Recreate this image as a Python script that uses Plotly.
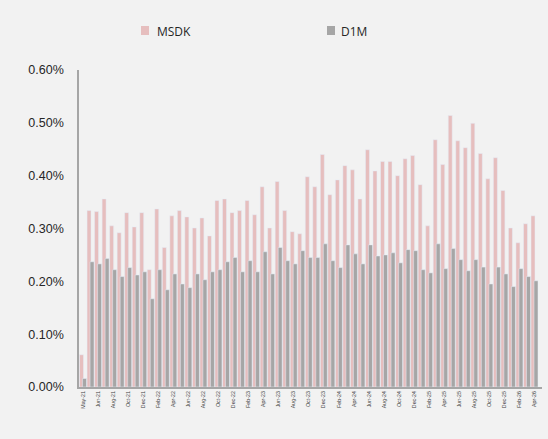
import plotly.graph_objects as go

months = ["May-21", "May-21", "Jun-21", "Jul-21", "Aug-21", "Sep-21", "Oct-21", "Nov-21", "Dec-21",
          "Jan-22", "Feb-22", "Mar-22", "Apr-22", "May-22", "Jun-22", "Jul-22", "Aug-22", "Sep-22",
          "Oct-22", "Nov-22", "Dec-22", "Jan-23", "Feb-23", "Mar-23", "Apr-23", "May-23", "Jun-23",
          "Jul-23", "Aug-23", "Sep-23", "Oct-23", "Nov-23", "Dec-23", "Jan-24", "Feb-24", "Mar-24",
          "Apr-24", "May-24", "Jun-24", "Jul-24", "Aug-24", "Sep-24", "Oct-24", "Nov-24", "Dec-24",
          "Jan-25", "Feb-25", "Mar-25", "Apr-25", "May-25", "Jun-25", "Jul-25", "Aug-25", "Sep-25",
          "Oct-25", "Nov-25", "Dec-25", "Jan-26", "Feb-26", "Mar-26", "Apr-26"]

msdk = [0.061, 0.334, 0.332, 0.356, 0.305, 0.292, 0.330, 0.303, 0.330, 0.222,
        0.337, 0.264, 0.324, 0.334, 0.322, 0.301, 0.320, 0.286, 0.353, 0.356,
        0.330, 0.334, 0.353, 0.326, 0.379, 0.301, 0.389, 0.334, 0.294, 0.290,
        0.398, 0.379, 0.440, 0.364, 0.392, 0.419, 0.411, 0.356, 0.449, 0.409,
        0.427, 0.427, 0.400, 0.432, 0.438, 0.383, 0.305, 0.468, 0.421, 0.514,
        0.466, 0.453, 0.499, 0.442, 0.394, 0.434, 0.372, 0.301, 0.273, 0.309,
        0.324]

d1m = [0.016, 0.237, 0.233, 0.243, 0.222, 0.209, 0.226, 0.212, 0.218, 0.167,
       0.222, 0.184, 0.214, 0.195, 0.188, 0.214, 0.203, 0.218, 0.222, 0.237,
       0.245, 0.218, 0.239, 0.218, 0.256, 0.214, 0.264, 0.239, 0.233, 0.258,
       0.245, 0.245, 0.271, 0.239, 0.226, 0.269, 0.252, 0.233, 0.269, 0.248,
       0.250, 0.254, 0.235, 0.260, 0.258, 0.222, 0.216, 0.271, 0.224, 0.262,
       0.241, 0.220, 0.241, 0.227, 0.195, 0.227, 0.214, 0.190, 0.224, 0.209,
       0.201]

y_ticks = [0.0, 0.1, 0.2, 0.3, 0.4, 0.5, 0.6]

PINK = "#E6BEBE"
GRAY = "#A6A6A6"
BG = "#F2F2F2"

idx = list(range(len(months)))

fig = go.Figure()
fig.add_trace(go.Bar(x=idx, y=msdk, name="MSDK", marker_color=PINK,
                     width=0.53, offset=-0.46, showlegend=False))
fig.add_trace(go.Bar(x=idx, y=d1m, name="D1M", marker_color=GRAY,
                     width=0.53, offset=-0.06, showlegend=False))

# manual legend
W, H, L, B = 463, 317, 79, 52
def px(xp):
    return (xp - L) / W
def py(yp):
    return (439 - yp - B) / H

for x0, x1, col, label, tx in [(141, 149, PINK, "MSDK", 155), (327, 335, GRAY, "D1M", 339)]:
    fig.add_shape(type="rect", xref="paper", yref="paper",
                  x0=px(x0), x1=px(x1), y0=py(35), y1=py(26),
                  fillcolor=col, line_width=0)
    fig.add_annotation(text=label, xref="paper", yref="paper", x=px(tx), y=py(31),
                       xanchor="left", yanchor="middle", showarrow=False,
                       font=dict(family="Open Sans", size=12, color="#262626"))

fig.update_layout(
    width=548, height=439,
    margin=dict(l=L, r=548 - L - W, t=70, b=B),
    paper_bgcolor=BG, plot_bgcolor=BG,
    barmode="overlay",
    showlegend=False,
)
fig.update_xaxes(
    range=[-0.53, 61.0],
    tickmode="array",
    tickvals=idx[::2],
    ticktext=months[::2],
    tickangle=-90,
    tickfont=dict(family="Liberation Sans", size=5.3, color="#404040"),
    showgrid=False, zeroline=False,
    showline=True, linecolor="#A6A6A6", linewidth=2,
    ticks="",
)
fig.update_yaxes(
    range=[0, 0.6],
    tickmode="array",
    tickvals=y_ticks,
    ticktext=[f"{v:.2f}%" for v in y_ticks],
    tickfont=dict(family="Liberation Sans", size=12.5, color="#262626"),
    showgrid=False, zeroline=False,
    showline=True, linecolor="#A6A6A6", linewidth=1.5,
    ticks="", ticklabelstandoff=11,
)

fig.write_html("out.html",
               config={"displayModeBar": False},
               post_script="document.body.style.margin='0';document.body.style.background='#F2F2F2';")
